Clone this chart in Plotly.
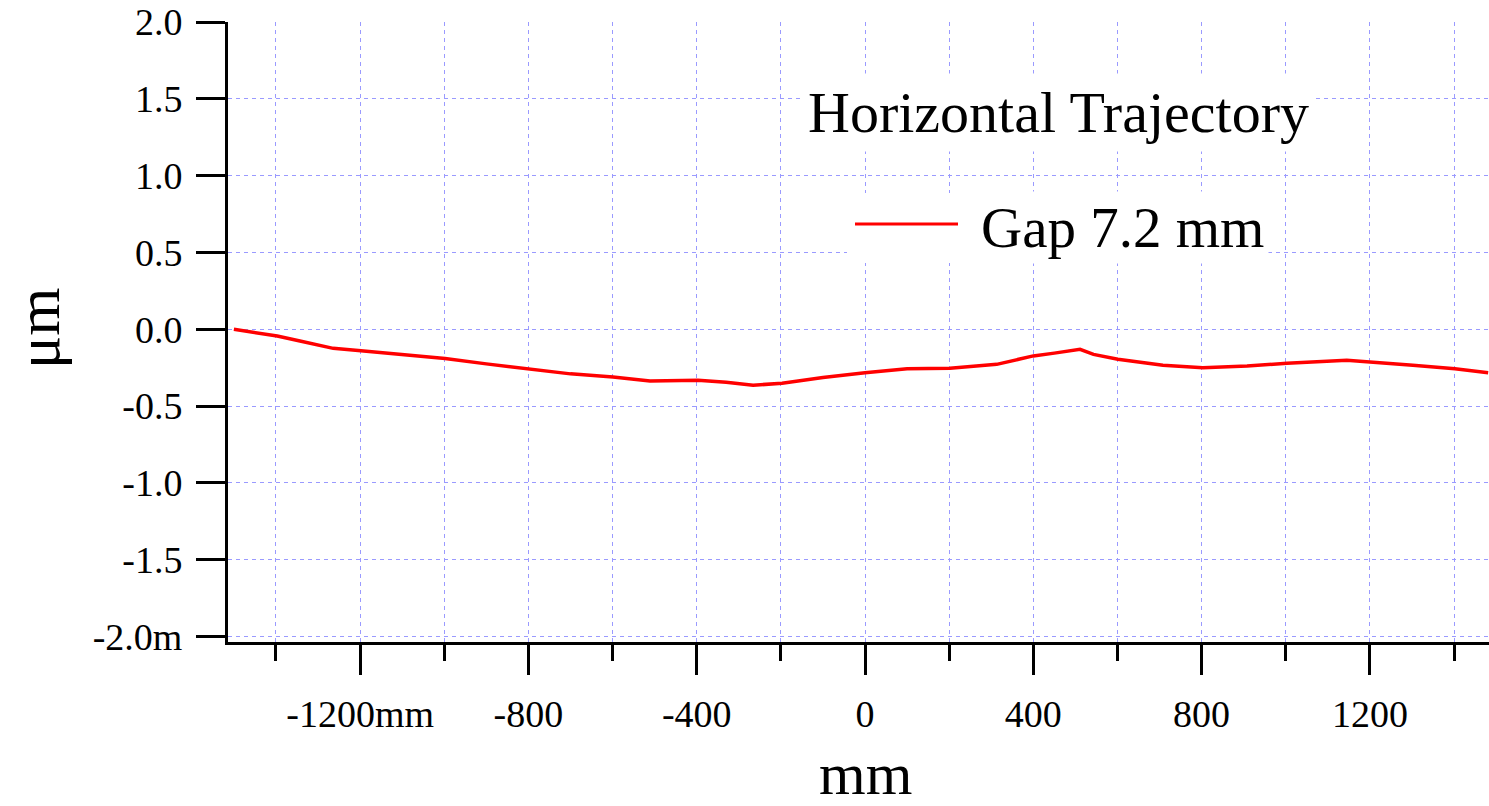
import plotly.graph_objects as go

# Data (mm vs. µm)
x_mm = [-1500, -1397, -1343, -1264, -1198, -1100, -998, -900, -798, -700, -599, -511,
        -397, -330, -266, -197, -100, 0, 100, 202, 313, 400, 450, 494, 511, 543, 601,
        708, 803, 908, 1003, 1145, 1200, 1302, 1402, 1481]
y_um = [0.0, -0.044, -0.076, -0.124, -0.14, -0.165, -0.19, -0.225, -0.26, -0.29, -0.31, -0.336,
        -0.332, -0.345, -0.364, -0.351, -0.314, -0.282, -0.256, -0.254, -0.228, -0.173, -0.155, -0.137,
        -0.13, -0.163, -0.195, -0.234, -0.25, -0.238, -0.221, -0.202, -0.212, -0.234, -0.256, -0.282]

x_tickvals = [-1200, -800, -400, 0, 400, 800, 1200]
x_ticktext = ["-1200mm", "-800", "-400", "0", "400", "800", "1200"]
y_tickvals = [2.0, 1.5, 1.0, 0.5, 0.0, -0.5, -1.0, -1.5, -2.0]
y_ticktext = ["2.0", "1.5", "1.0", "0.5", "0.0", "-0.5", "-1.0", "-1.5", "-2.0m"]

title_text = "Horizontal Trajectory"
series_name = "Gap 7.2 mm"

FONT = "Liberation Serif"
GRID = "#9a9aff"

fig = go.Figure()
fig.add_trace(go.Scatter(x=x_mm, y=y_um, mode="lines", name=series_name,
                         line=dict(color="#ff0000", width=3.5), showlegend=False))

W, H = 1489, 806
L, R, T, B = 228, 0, 22, 164
pw, ph = W - L - R, H - T - B

def px(xp):
    return (xp - L) / pw

def py(yp):
    return (H - B - yp) / ph

fig.update_layout(
    width=W, height=H,
    margin=dict(l=L, r=R, t=T, b=B),
    paper_bgcolor="white", plot_bgcolor="white",
    font=dict(family=FONT, color="black", size=38),
    xaxis=dict(range=[-1514, 1483], tickvals=x_tickvals, ticktext=x_ticktext,
               ticks="outside", ticklen=30, tickwidth=3, tickcolor="black",
               showline=True, linewidth=3, linecolor="black",
               showgrid=True, gridcolor=GRID, griddash="4px,4px", gridwidth=1,
               zeroline=False, ticklabelstandoff=6,
               tickfont=dict(family=FONT, size=38),
               minor=dict(dtick=200, tick0=0, ticks="outside", ticklen=16, tickwidth=3,
                          tickcolor="black", showgrid=True, gridcolor=GRID,
                          griddash="4px,4px", gridwidth=1)),
    yaxis=dict(range=[-2.035, 2.0], tickvals=y_tickvals, ticktext=y_ticktext,
               ticks="outside", ticklen=29, tickwidth=3, tickcolor="black",
               showline=True, linewidth=3, linecolor="black",
               showgrid=True, gridcolor=GRID, griddash="4px,4px", gridwidth=1,
               zeroline=False, ticklabelstandoff=6,
               tickfont=dict(family=FONT, size=38)),
    showlegend=False,
)

# Legend box (white) with sample line
fig.add_shape(type="rect", xref="paper", yref="paper",
              x0=px(847), x1=px(1264), y0=py(263), y1=py(193),
              fillcolor="white", line=dict(width=0), layer="above")
fig.add_shape(type="line", xref="paper", yref="paper",
              x0=px(855), x1=px(958), y0=py(224), y1=py(224),
              line=dict(color="#ff0000", width=3), layer="above")

fig.add_annotation(text=title_text, xref="paper", yref="paper",
                   x=px(1058), y=py(113), xanchor="center", yanchor="middle",
                   showarrow=False, bgcolor="white", borderpad=6,
                   font=dict(family=FONT, size=58, color="black"))
fig.add_annotation(text=series_name, xref="paper", yref="paper",
                   x=px(1122), y=py(227), xanchor="center", yanchor="middle",
                   showarrow=False, bgcolor="white", borderpad=4,
                   font=dict(family=FONT, size=57, color="black"))

# Axis titles
fig.add_annotation(text="μm", xref="paper", yref="paper",
                   x=px(38), y=py(329), xanchor="center", yanchor="middle",
                   textangle=-90, showarrow=False,
                   font=dict(family=FONT, size=62, color="black"))
fig.add_annotation(text="mm", xref="paper", yref="paper",
                   x=px(865), y=py(774), xanchor="center", yanchor="middle",
                   showarrow=False,
                   font=dict(family=FONT, size=60, color="black"))

fig.write_html("out.html")
